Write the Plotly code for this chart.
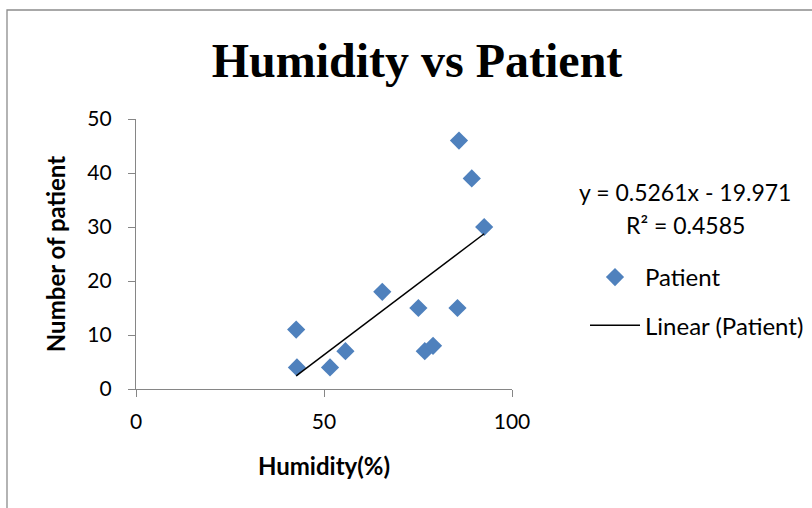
import plotly.graph_objects as go

# Humidity (%) vs number of patients
humidity = [42.6, 42.8, 51.6, 55.7, 65.5, 75.1, 76.8, 79.0, 85.5, 85.9, 89.3, 92.6]
patients = [11, 4, 4, 7, 18, 15, 7, 8, 15, 46, 39, 30]

# Linear trend shown on the chart
slope = 0.5261
intercept = -19.971
equation_text = "y = 0.5261x - 19.971"
r2_text = "R² = 0.4585"

x_ticks = [0, 50, 100]
y_ticks = [0, 10, 20, 30, 40, 50]

BLUE = "#4F81BD"
AXIS = "#868686"
SANS = "Lato, 'Open Sans', sans-serif"

x_fit = [min(humidity), max(humidity)]
y_fit = [slope * v + intercept for v in x_fit]

fig = go.Figure()
fig.add_trace(go.Scatter(
    x=humidity, y=patients, mode="markers", name="Patient",
    legendgroup="a",
    marker=dict(symbol="diamond", size=14, color=BLUE, line=dict(width=0)),
    cliponaxis=False,
))
fig.add_trace(go.Scatter(
    x=x_fit, y=y_fit, mode="lines", name="Linear (Patient)",
    legendgroup="b",
    line=dict(color="black", width=1.5),
))

W, H = 812, 508
L, R, T, B = 136, 300, 119, 119
pw, ph = W - L - R, H - T - B

def px(xp):
    return (xp - L) / pw

def py(yp):
    return (H - B - yp) / ph

fig.update_layout(
    width=W, height=H,
    margin=dict(l=L, r=R, t=T, b=B, autoexpand=False),
    paper_bgcolor="white", plot_bgcolor="white",
    title=dict(
        text="<b>Humidity vs Patient</b>",
        font=dict(family="'Liberation Serif', 'Times New Roman', serif", size=48, color="black"),
        xref="container", x=417 / W, xanchor="center",
        yref="container", y=1 - 60 / H, yanchor="middle",
    ),
    font=dict(family=SANS, size=21, color="black"),
    legend=dict(
        x=px(585), xanchor="left", y=py(255), yanchor="top",
        font=dict(family=SANS, size=24, color="black"),
        itemwidth=50, tracegroupgap=14, bgcolor="rgba(0,0,0,0)",
    ),
    showlegend=True,
)

fig.update_xaxes(
    range=[0, 100], tickvals=x_ticks, showgrid=False, zeroline=False,
    showline=True, linecolor=AXIS, linewidth=1.3,
    ticks="outside", ticklen=7, tickcolor=AXIS, tickwidth=1.3,
    tickfont=dict(family=SANS, size=21), ticklabelstandoff=7,
    title=dict(text="<b>Humidity(%)</b>", font=dict(family=SANS, size=24), standoff=25),
)
fig.update_yaxes(
    range=[0, 50], tickvals=y_ticks, showgrid=False, zeroline=False,
    showline=True, linecolor=AXIS, linewidth=1.3,
    ticks="outside", ticklen=7, tickcolor=AXIS, tickwidth=1.3,
    tickfont=dict(family=SANS, size=21), ticklabelstandoff=12,
    title=dict(text="<b>Number of patient</b>", font=dict(family=SANS, size=24), standoff=14),
)

# outer chart-area frame
fig.add_shape(type="rect", xref="paper", yref="paper",
              x0=px(7), y0=py(560), x1=px(860), y1=py(10),
              line=dict(color="#8C8C8C", width=1.3), fillcolor="rgba(0,0,0,0)", layer="below")

fig.add_annotation(text=equation_text, xref="paper", yref="paper",
                   x=px(685), y=py(192), xanchor="center", yanchor="middle",
                   showarrow=False, font=dict(family=SANS, size=23))
fig.add_annotation(text=r2_text, xref="paper", yref="paper",
                   x=px(685), y=py(225), xanchor="center", yanchor="middle",
                   showarrow=False, font=dict(family=SANS, size=23))

fig.write_html("out.html", config={"displayModeBar": False},
               post_script="document.body.style.margin='0';")
